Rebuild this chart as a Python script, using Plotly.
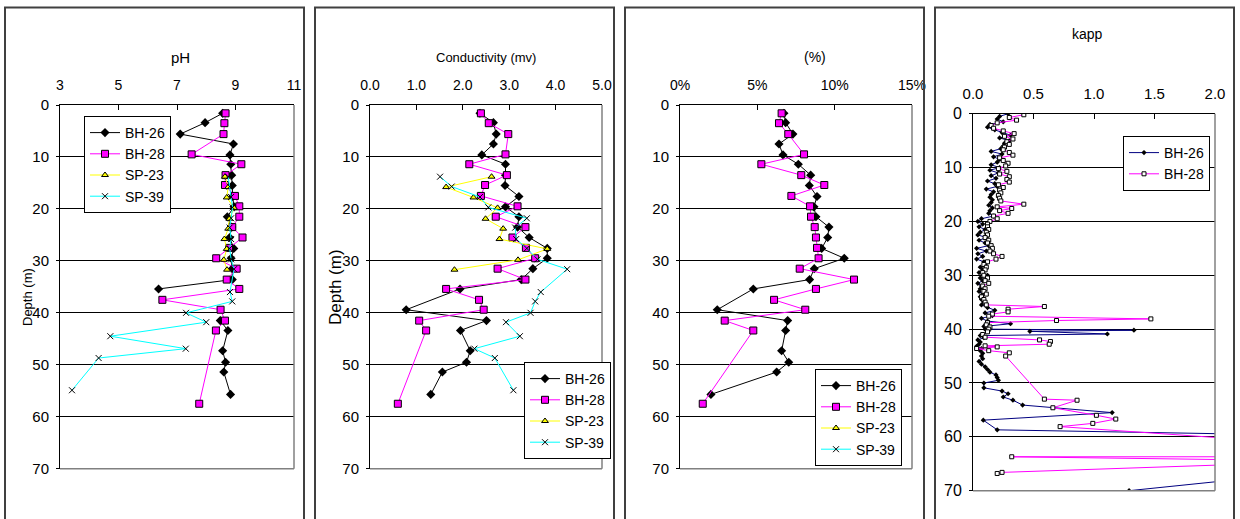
import plotly.graph_objects as go

W, H = 1240, 519

# ---------------- data ----------------
bh26_depth = [1.6, 3.4, 5.6, 7.5, 9.6, 11.4, 13.5, 15.5, 17.6, 19.6, 21.5, 23.5, 25.5, 27.6, 29.5,
              31.5, 33.6, 35.4, 39.4, 41.5, 43.4, 47.3, 49.5, 51.4, 55.7]
bh26_ph = [8.56, 7.96, 7.11, 8.93, 8.81, 8.84, 8.87, 8.89, 8.90, 8.95, 8.72, 8.87, 8.80, 8.94, 8.85,
           8.89, 8.89, 6.37, None, 8.48, 8.74, 8.56, 8.66, 8.60, 8.83]
bh26_cond = [2.37, 2.66, 2.72, 2.66, 2.41, 2.92, 2.92, 2.91, 3.21, 2.92, 3.21, 3.18, 3.43, 3.82, 3.82,
             3.51, 3.26, 1.94, 0.78, 2.51, 1.95, 2.16, 2.08, 1.56, 1.31]
bh26_pct = [6.72, 6.83, 7.30, 6.40, 6.66, 7.65, 8.45, 8.36, 8.86, 8.66, 8.79, 9.63, 9.55, 9.16, 10.62,
            8.68, 8.38, 4.74, 2.41, 6.96, 6.83, 6.57, 7.03, 6.25, 2.00]

bh28_depth = [1.6, 3.5, 5.6, 9.5, 11.4, 13.5, 15.4, 17.5, 19.5, 21.5, 23.5, 25.5, 27.5, 29.5, 31.5,
              33.6, 35.4, 37.5, 39.4, 41.5, 43.4, 57.5]
bh28_ph = [8.66, 8.62, 8.59, 7.50, 9.20, 8.66, 8.64, 8.98, 9.13, 9.13, 8.89, 9.24, 8.78, 8.34, 9.04,
           8.70, 9.13, 6.50, 8.49, 8.64, 8.33, 7.76]
bh28_cond = [2.39, 2.56, 2.98, 2.92, 2.14, 2.95, 2.48, 2.39, 3.18, 2.71, 3.35, 3.07, 3.36, 3.56, 2.75,
             3.35, 1.64, 2.35, 2.45, 1.06, 1.21, 0.60]
bh28_pct = [6.57, 6.40, 7.00, 8.02, 5.26, 7.84, 9.33, 7.20, 8.41, 8.47, 8.71, 8.79, 8.86, 8.96, 7.74,
            11.25, 8.79, 6.08, 8.10, 2.89, 4.74, 1.47]

sp23_depth = [13.8, 15.8, 17.8, 19.8, 21.9, 23.8, 25.8, 27.7, 29.8, 31.7]
sp23_ph = [8.64, 8.75, 8.70, 8.95, 8.79, 8.75, 8.62, 8.70, 8.60, 8.71]
sp23_cond = [2.62, 1.64, 2.23, 2.75, 2.49, 2.87, 2.79, 3.82, 3.19, 1.82]

sp39_depth = [13.8, 15.7, 17.7, 19.7, 21.8, 23.6, 25.8, 27.6, 29.7, 31.6, 36.0, 37.8, 40.0, 41.8,
              44.5, 46.9, 48.7, 54.9]
sp39_ph = [8.75, 8.80, 8.85, 8.90, 8.85, 8.80, 8.85, 8.80, 8.85, 8.95, 8.81, 8.89, 7.31, 8.00,
           4.72, 7.30, 4.32, 3.41]
sp39_cond = [1.51, 1.76, 2.37, 2.55, 3.38, 3.13, 3.15, 3.38, 3.61, 4.25, 3.68, 3.56, 3.46, 2.93,
             3.23, 2.25, 2.69, 3.09]

kapp_bh26_depth = [0.0, 0.5, 1.0, 1.5, 2.0, 2.5, 3.0, 3.5, 4.0, 4.5, 5.0, 5.5, 6.0, 6.5, 7.0, 7.5,
                   8.0, 8.5, 9.0, 9.5, 10.0, 10.5, 11.0, 11.5, 12.0, 12.5, 13.0, 13.5, 14.0, 14.5,
                   15.0, 15.5, 16.0, 16.5, 17.0, 17.5, 18.0, 18.5, 19.0, 19.5, 20.0, 20.5, 21.0,
                   21.5, 22.0, 22.5, 23.0, 23.5, 24.0, 24.5, 25.0, 25.5, 26.0, 26.5, 27.0, 27.5,
                   28.0, 28.5, 29.0, 29.5, 30.0, 30.5, 31.0, 31.5, 32.0, 32.5, 33.0, 33.5, 34.0,
                   34.5, 35.0, 35.5, 36.0, 36.5, 37.0, 37.5, 38.0, 38.5, 39.0, 39.5, 40.0, 40.2,
                   40.4, 40.9, 41.2, 41.6, 42.0, 42.4, 42.8, 43.2, 43.6, 44.0, 44.5, 45.0, 45.5,
                   46.0, 46.5, 47.0, 47.5, 48.0, 48.5, 49.0, 49.5, 50.0, 50.9, 51.5, 52.0, 52.6,
                   53.2, 54.1, 55.5, 56.9, 58.7, 59.8, 66.5, 70.0, 70.5]
kapp_bh26 = [0.29, 0.22, 0.20, 0.25, 0.14, 0.12, 0.18, 0.24, 0.31, 0.22, 0.30, 0.26, 0.25, 0.23,
             0.15, 0.24, 0.17, 0.22, 0.20, 0.15, 0.22, 0.14, 0.21, 0.15, 0.19, 0.12, 0.18, 0.20,
             0.11, 0.17, 0.15, 0.14, 0.16, 0.15, 0.13, 0.16, 0.14, 0.13, 0.17, 0.07, 0.04, 0.08,
             0.05, 0.10, 0.06, 0.04, 0.11, 0.05, 0.10, 0.13, 0.03, 0.11, 0.04, 0.08, 0.03, 0.09,
             0.10, 0.06, 0.08, 0.05, 0.12, 0.06, 0.08, 0.04, 0.07, 0.06, 0.05, 0.08, 0.06, 0.07,
             0.09, 0.07, 0.12, 0.18, 0.10, 0.16, 0.07, 0.12, 0.31, 0.09, 0.10, 1.33, 0.47, 1.11,
             0.06, 0.09, 0.04, 0.06, 0.05, 0.03, 0.07, 0.06, 0.08, 0.07, 0.08, 0.05, 0.07, 0.10,
             0.12, 0.14, 0.19, 0.20, 0.21, 0.09, 0.09, 0.24, 0.29, 0.25, 0.33, 0.41, 1.15, 0.085,
             0.20, 3.0, 2.8, 1.29, 0.9]

kapp_bh28_depth = [0.2, 0.7, 1.2, 1.7, 2.2, 2.7, 3.2, 3.7, 4.2, 4.7, 5.2, 5.7, 6.2, 6.7, 7.2, 7.7,
                   8.2, 8.7, 9.2, 9.7, 10.2, 10.7, 11.2, 11.7, 12.2, 12.7, 13.2, 13.7, 14.2, 14.7,
                   15.2, 15.7, 16.2, 16.8, 17.3, 17.6, 18.0, 18.5, 19.0, 19.5, 20.0, 20.5, 21.0,
                   21.5, 22.0, 22.5, 23.0, 23.5, 24.0, 24.5, 25.0, 25.5, 26.0, 26.5, 27.0, 27.5,
                   28.0, 28.5, 29.0, 29.5, 30.0, 30.5, 31.0, 31.5, 32.0, 32.5, 33.0, 33.5, 34.0,
                   34.5, 35.0, 35.5, 35.8, 36.3, 36.8, 37.2, 37.6, 38.1, 38.4, 38.8, 39.2, 39.6,
                   40.0, 40.5, 41.0, 41.5, 42.0, 42.3, 42.8, 43.1, 43.3, 43.6, 44.0, 44.4, 45.0,
                   53.0, 53.2, 54.6, 56.0, 56.7, 57.5, 58.1, 60.9, 63.7, 63.7, 64.5, 66.6, 66.8]
kapp_bh28 = [0.42, 0.30, 0.36, 0.20, 0.15, 0.17, 0.25, 0.34, 0.26, 0.33, 0.28, 0.30, 0.26, 0.25,
             0.30, 0.33, 0.22, 0.25, 0.29, 0.27, 0.21, 0.28, 0.22, 0.30, 0.28, 0.30, 0.21, 0.25,
             0.22, 0.23, 0.21, 0.22, 0.23, 0.42, 0.20, 0.32, 0.22, 0.29, 0.17, 0.20, 0.14, 0.12,
             0.12, 0.13, 0.11, 0.12, 0.10, 0.13, 0.12, 0.15, 0.16, 0.14, 0.17, 0.24, 0.19, 0.12,
             0.09, 0.11, 0.10, 0.08, 0.09, 0.12, 0.10, 0.13, 0.08, 0.10, 0.09, 0.11, 0.07, 0.09,
             0.10, 0.11, 0.59, 0.29, 0.29, 0.16, 0.13, 1.47, 0.69, 0.12, 0.11, 0.14, 0.13, 0.12,
             0.08, 0.10, 0.55, 0.64, 0.63, 0.10, 0.20, 0.03, 0.13, 0.30, 0.27, 0.59, 0.86, 0.66,
             1.02, 1.18, 0.99, 0.72, 2.5, 3.0, 0.32, 3.0, 0.24, 0.20]

depth_ticks = [0, 10, 20, 30, 40, 50, 60, 70]
ph_ticks = [3, 5, 7, 9, 11]
ph_labels = ["3", "5", "7", "9", "11"]
cond_ticks = [0, 1, 2, 3, 4, 5]
cond_labels = ["0.0", "1.0", "2.0", "3.0", "4.0", "5.0"]
pct_ticks = [0, 5, 10, 15]
pct_labels = ["0%", "5%", "10%", "15%"]
kapp_ticks = [0, 0.5, 1.0, 1.5, 2.0]
kapp_labels = ["0.0", "0.5", "1.0", "1.5", "2.0"]

# ---------------- styles ----------------
FONT = "Liberation Sans, Arial, sans-serif"
sty = {
    "BH-26": dict(line=dict(color="black", width=1),
                  marker=dict(symbol="diamond", size=7, color="black", line=dict(width=0))),
    "BH-28": dict(line=dict(color="#FF00FF", width=1),
                  marker=dict(symbol="square", size=7, color="#FF00FF", line=dict(color="black", width=1))),
    "SP-23": dict(line=dict(color="#FFFF00", width=1),
                  marker=dict(symbol="triangle-up", size=6, color="#FFFF00", line=dict(color="black", width=1))),
    "SP-39": dict(line=dict(color="#00FFFF", width=1),
                  marker=dict(symbol="x-thin", size=6, color="black", line=dict(color="black", width=1))),
}

fig = go.Figure()

def add(name, x, y, ax, leg):
    s = sty[name]
    fig.add_trace(go.Scatter(x=x, y=y, name=name, mode="lines+markers", line=s["line"],
                             marker=s["marker"], xaxis="x" + ax, yaxis="y" + ax,
                             legend=leg, connectgaps=False, cliponaxis=True))

# panel 1 - pH
add("BH-26", bh26_ph, bh26_depth, "", "legend")
add("BH-28", bh28_ph, bh28_depth, "", "legend")
add("SP-23", sp23_ph, sp23_depth, "", "legend")
add("SP-39", sp39_ph, sp39_depth, "", "legend")
# panel 2 - conductivity
add("BH-26", bh26_cond, bh26_depth, "2", "legend2")
add("BH-28", bh28_cond, bh28_depth, "2", "legend2")
add("SP-23", sp23_cond, sp23_depth, "2", "legend2")
add("SP-39", sp39_cond, sp39_depth, "2", "legend2")
# panel 3 - percent
add("BH-26", bh26_pct, bh26_depth, "3", "legend3")
add("BH-28", bh28_pct, bh28_depth, "3", "legend3")
add("SP-23", [None], [None], "3", "legend3")
add("SP-39", [None], [None], "3", "legend3")
# panel 4 - kapp
fig.add_trace(go.Scatter(x=kapp_bh26, y=kapp_bh26_depth, name="BH-26", mode="lines+markers",
                         line=dict(color="#000080", width=1),
                         marker=dict(symbol="diamond", size=4, color="black"),
                         xaxis="x4", yaxis="y4", legend="legend4"))
fig.add_trace(go.Scatter(x=kapp_bh28, y=kapp_bh28_depth, name="BH-28", mode="lines+markers",
                         line=dict(color="#FF00FF", width=1),
                         marker=dict(symbol="square", size=4, color="white", line=dict(color="black", width=1)),
                         xaxis="x4", yaxis="y4", legend="legend4"))

# ---------------- layout ----------------
def X(p): return p / W
def Y(p): return 1 - p / H

dom_x = [(60, 294), (370, 602), (680, 912), (973, 1215)]
dom_y = [(105, 468.7), (105, 468.7), (105, 468.7), (113.7, 490.7)]
xranges = [[3, 11], [0, 5], [0, 15], [0, 2]]
xtv = [ph_ticks, cond_ticks, pct_ticks, kapp_ticks]
xtt = [ph_labels, cond_labels, pct_labels, kapp_labels]

layout = dict(width=W, height=H, margin=dict(l=0, r=0, t=0, b=0, autoexpand=False),
              paper_bgcolor="white", plot_bgcolor="white",
              font=dict(family=FONT, size=14, color="black"), showlegend=True)

for i in range(4):
    sfx = "" if i == 0 else str(i + 1)
    layout["xaxis" + sfx] = dict(domain=[X(dom_x[i][0]), X(dom_x[i][1])], range=xranges[i],
                                 side="top", anchor="y" + sfx, tickvals=xtv[i], ticktext=xtt[i],
                                 showgrid=False, zeroline=False, automargin=False,
                                 showline=True, linecolor="black", linewidth=1,
                                 ticks="inside", ticklen=5, tickcolor="black",
                                 tickfont=dict(size=15 if i == 3 else 14), ticklabelstandoff=8)
    layout["yaxis" + sfx] = dict(domain=[Y(dom_y[i][1]), Y(dom_y[i][0])], range=[70, 0],
                                 anchor="x" + sfx, tickvals=depth_ticks, showgrid=True,
                                 gridcolor="black", gridwidth=1, zeroline=False, automargin=False,
                                 showline=True, linecolor="black", linewidth=1,
                                 ticks="outside", ticklen=3, tickcolor="black",
                                 tickfont=dict(size=16 if i == 3 else 15), ticklabelstandoff=4)

shapes = []
# outer frames of the four charts
for (a, b) in [(5, 304), (315, 614), (625, 924), (935, 1234)]:
    shapes.append(dict(type="rect", xref="paper", yref="paper", x0=X(a), x1=X(b), y0=-0.2, y1=Y(7.5),
                       line=dict(color="#404040", width=2), fillcolor="rgba(0,0,0,0)", layer="above"))
# gray plot-area border (right + bottom)
for i in range(4):
    sfx = "" if i == 0 else str(i + 1)
    xr, yr = "x" + sfx + " domain", "y" + sfx + " domain"
    shapes.append(dict(type="line", xref=xr, yref=yr, x0=0, x1=1, y0=0, y1=0,
                       line=dict(color="#808080", width=1.5), layer="above"))
    shapes.append(dict(type="line", xref=xr, yref=yr, x0=1, x1=1, y0=0, y1=1,
                       line=dict(color="#808080", width=1.5), layer="above"))
layout["shapes"] = shapes

annotations = [
    dict(text="pH", x=X(180), y=Y(57), font=dict(size=15)),
    dict(text="Conductivity (mv)", x=X(486), y=Y(57), font=dict(size=13)),
    dict(text="(%)", x=X(815), y=Y(57), font=dict(size=14)),
    dict(text="kapp", x=X(1087), y=Y(34), font=dict(size=14)),
    dict(text="Depth (m)", x=X(27), y=Y(297), textangle=-90, font=dict(size=13)),
    dict(text="Depth (m)", x=X(335), y=Y(287), textangle=-90, font=dict(size=17)),
]
for a in annotations:
    a.update(xref="paper", yref="paper", showarrow=False, xanchor="center", yanchor="middle")
layout["annotations"] = annotations

leg_common = dict(bgcolor="white", bordercolor="black", borderwidth=1,
                  font=dict(size=14, family=FONT), itemwidth=30, yanchor="top",
                  xref="paper", yref="paper")
layout["legend"] = dict(x=X(84), y=Y(116), xanchor="left", **leg_common)
layout["legend2"] = dict(x=X(524), y=Y(362), xanchor="left", **leg_common)
layout["legend3"] = dict(x=X(902), y=Y(369), xanchor="right", **leg_common)
layout["legend4"] = dict(x=X(1210), y=Y(136), xanchor="right", **leg_common)

fig.update_layout(**layout)
fig.write_html("out.html",
               post_script="document.body.style.margin='0px';document.body.style.overflow='hidden';")
